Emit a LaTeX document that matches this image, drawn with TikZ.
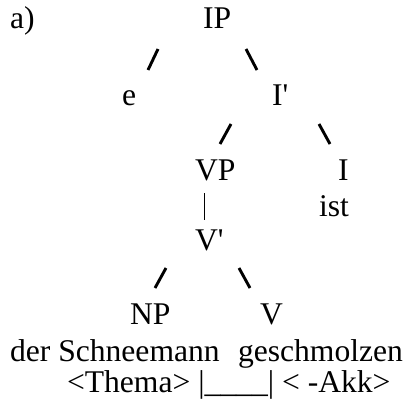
\documentclass[tikz,border=0pt]{standalone}
\usepackage{fontspec}
\setmainfont{Liberation Serif}
\newcommand\prm{\XeTeXglyph\XeTeXcharglyph"27\relax}
\tikzset{
  lbl/.style={anchor=base west, inner sep=0pt, outer sep=0pt, font=\fontsize{31.6}{38}\selectfont},
  slashline/.style={line width=2.9pt, black},
  barline/.style={line width=1.1pt, black}
}
\begin{document}
\begin{tikzpicture}[x=1pt,y=-1pt]
  \useasboundingbox (0,0) rectangle (407,401);
  % texts
  \node[lbl] (lab) at (10,29) {a)};
  \node[lbl] (IP) at (203,29) {IP};
  \node[lbl] (e) at (122,106) {e};
  \node[lbl] (Ibar) at (272,106) {I\prm};
  \node[lbl] (VP) at (195,181) {VP};
  \node[lbl] (I) at (338,181) {I};
  \node[lbl] (ist) at (319,216) {ist};
  \node[lbl] (Vbar) at (195,250) {V\prm};
  \node[lbl] (NP) at (130,324) {NP};
  \node[lbl] (V) at (260,324) {V};
  \node[lbl] (dsm) at (10,361) {der Schneemann};
  \node[lbl] (gsm) at (238,361) {geschmolzen};
  \node[lbl] (grid) at (67,392) {<Thema> |\_\_\_\_| < -Akk>};
  % connector end points
  \coordinate (a1) at (158,49);  \coordinate (a2) at (148,70);
  \coordinate (b1) at (246,49);  \coordinate (b2) at (257,70);
  \coordinate (c1) at (231,124); \coordinate (c2) at (220,144);
  \coordinate (d1) at (319,124); \coordinate (d2) at (330,144);
  \coordinate (v1) at (204.5,193); \coordinate (v2) at (204.5,220);
  \coordinate (f1) at (166,268); \coordinate (f2) at (155,288);
  \coordinate (g1) at (239,268); \coordinate (g2) at (250,288);
  % connectors
  \draw[slashline] (a1) -- (a2);
  \draw[slashline] (b1) -- (b2);
  \draw[slashline] (c1) -- (c2);
  \draw[slashline] (d1) -- (d2);
  \draw[barline] (v1) -- (v2);
  \draw[slashline] (f1) -- (f2);
  \draw[slashline] (g1) -- (g2);
\end{tikzpicture}
\end{document}
